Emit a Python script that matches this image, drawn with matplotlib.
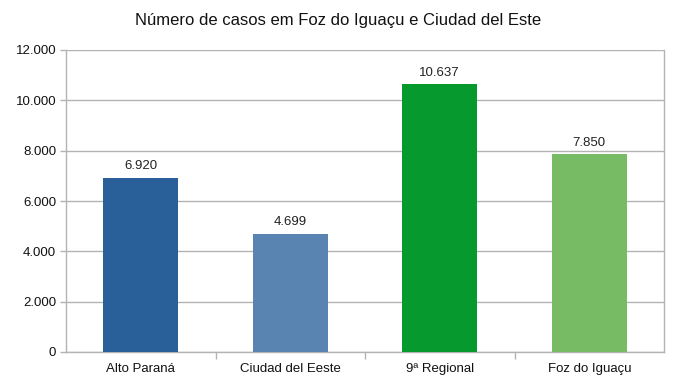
import matplotlib
matplotlib.use("Agg")
import matplotlib.pyplot as plt
from matplotlib.ticker import FuncFormatter, FixedLocator

plt.rcParams['font.family'] = ['Liberation Sans', 'DejaVu Sans']

categories = ["Alto Paraná", "Ciudad del Eeste", "9ª Regional", "Foz do Iguaçu"]
values = [6920, 4699, 10637, 7850]
colors = ["#2a6099", "#5983b0", "#069a2e", "#77bc65"]
yticks = [0, 2000, 4000, 6000, 8000, 10000, 12000]
title = "Número de casos em Foz do Iguaçu e Ciudad del Este"

def fmt(v):
    return f"{int(round(v)):,}".replace(",", ".")

fig = plt.figure(figsize=(6.96, 3.75), dpi=100)
ax = fig.add_axes([66/696, 23/375, (664-66)/696, (352-50)/375])

x = list(range(len(categories)))
bars = ax.bar(x, values, width=0.5, color=colors, zorder=3)
for xi, v in zip(x, values):
    ax.annotate(fmt(v), (xi, v), xytext=(0, 4), textcoords="offset points",
                ha="center", va="bottom", fontsize=9.5, color="#222222")

ax.set_xlim(-0.5, len(categories) - 0.5)
ax.set_ylim(0, 12000)
ax.set_yticks(yticks)
ax.yaxis.set_major_formatter(FuncFormatter(lambda v, p: fmt(v)))
ax.set_xticks(x)
ax.set_xticklabels(categories)
ax.xaxis.set_minor_locator(FixedLocator([i + 0.5 for i in x[:-1]]))
ax.tick_params(axis="x", which="major", length=0, pad=8, labelsize=9.5, labelcolor="#111111")
ax.tick_params(axis="x", which="minor", length=5, color="#b3b3b3", width=1)
ax.tick_params(axis="y", length=4, color="#b3b3b3", width=1, labelsize=9.5, labelcolor="#111111", pad=3)
ax.grid(axis="y", color="#b3b3b3", linewidth=1, zorder=0)
for s in ax.spines.values():
    s.set_color("#b3b3b3")
    s.set_linewidth(1)
ax.spines["top"].set_visible(False)

fig.text(338/696, 1 - 20/375, title, ha="center", va="center", fontsize=12, color="#111111")
fig.savefig("out.png", dpi=100)
